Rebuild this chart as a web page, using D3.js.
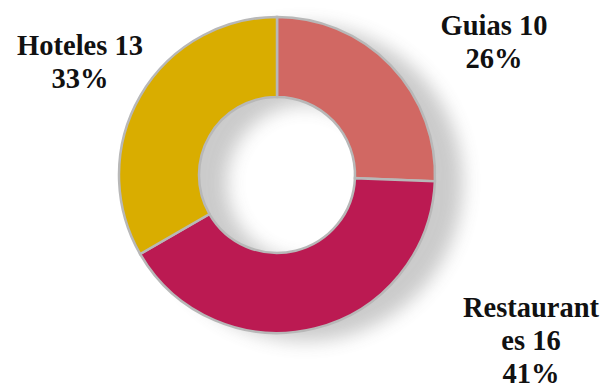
<!DOCTYPE html>
<html lang="es">
<head>
	<meta charset="UTF-8">
	<script src="https://d3js.org/d3.v7.min.js"></script>
	<style>
	body { margin: 0; background: #fff; }
	</style>
</head>
<body>
	<div id="chart"></div>
	<script>
		// data
		const categories = ["Guias", "Restaurantes", "Hoteles"];
		const values = [10, 16, 13];
		const percents = ["26%", "41%", "33%"];
		const labelLines = [
			["Guias 10", "26%"],
			["Restaurant", "es 16", "41%"],
			["Hoteles 13", "33%"]
		];
		const colors = ["#E0706A", "#C91C58", "#E9BA00"];

		const width = 605, height = 385;
		const cx = 277, cy = 175, outerR = 158, innerR = 78;

		const svg = d3.select("#chart").append("svg")
			.attr("width", width)
			.attr("height", height);

		const defs = svg.append("defs");
		defs.append("filter")
			.attr("id", "blur")
			.attr("x", "-30%").attr("y", "-30%")
			.attr("width", "160%").attr("height", "160%")
			.append("feGaussianBlur")
			.attr("stdDeviation", 9);

		// faint sheen near the edges of each slice
		colors.forEach(function(c, i) {
			const g = defs.append("radialGradient")
				.attr("id", "grad" + i)
				.attr("gradientUnits", "userSpaceOnUse")
				.attr("cx", cx).attr("cy", cy).attr("r", outerR);
			g.append("stop").attr("offset", "49%").attr("stop-color", d3.color(c).darker(0.2));
			g.append("stop").attr("offset", "55%").attr("stop-color", d3.color(c).brighter(0.2));
			g.append("stop").attr("offset", "65%").attr("stop-color", c);
			g.append("stop").attr("offset", "95%").attr("stop-color", c);
			g.append("stop").attr("offset", "100%").attr("stop-color", d3.color(c).darker(0.2));
		});

		const pie = d3.pie().sort(null).value(d => d);
		const arcs = pie(values);
		const arc = d3.arc().innerRadius(innerR).outerRadius(outerR);

		// soft shadow to the right
		svg.append("g")
			.attr("transform", "translate(" + (cx + 28) + "," + (cy + 8) + ")")
			.attr("filter", "url(#blur)")
			.attr("opacity", 0.3)
			.selectAll("path")
			.data(arcs)
			.join("path")
			.attr("d", arc)
			.attr("fill", "#555");

		const ring = svg.append("g")
			.attr("transform", "translate(" + cx + "," + cy + ")");

		ring.selectAll("path")
			.data(arcs)
			.join("path")
			.attr("d", arc)
			.attr("fill", (d, i) => "url(#grad" + i + ")")
			.attr("stroke", "#b8b8b8")
			.attr("stroke-width", 2.5);

		// labels
		const labelPos = [
			{ x: 494, y: 35 },
			{ x: 531, y: 317 },
			{ x: 80, y: 55 }
		];
		const lineH = 33;

		svg.append("g")
			.selectAll("text")
			.data(labelLines)
			.join("text")
			.style("font-family", "'Liberation Serif', 'DejaVu Serif', serif")
			.style("font-weight", "bold")
			.style("font-size", "28.5px")
			.attr("fill", "#111")
			.attr("text-anchor", "middle")
			.attr("x", (d, i) => labelPos[i].x)
			.attr("y", (d, i) => labelPos[i].y)
			.selectAll("tspan")
			.data(d => d)
			.join("tspan")
			.attr("x", function() { return d3.select(this.parentNode).attr("x"); })
			.attr("dy", (d, j) => j === 0 ? 0 : lineH)
			.text(d => d);
	</script>
</body>
</html>
